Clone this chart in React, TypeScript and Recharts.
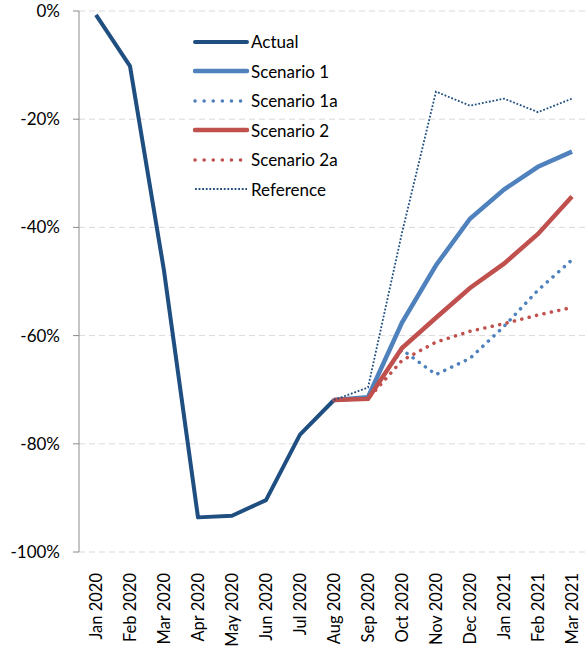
import {
    LineChart, Line, XAxis, YAxis, CartesianGrid, Legend,
} from 'recharts';

const months = [
    'Jan 2020', 'Feb 2020', 'Mar 2020', 'Apr 2020', 'May 2020', 'Jun 2020', 'Jul 2020',
    'Aug 2020', 'Sep 2020', 'Oct 2020', 'Nov 2020', 'Dec 2020', 'Jan 2021', 'Feb 2021', 'Mar 2021'
];

const actual = [-0.7, -10.2, -48, -93.6, -93.3, -90.4, -78.3, -71.9, null, null, null, null, null, null, null];
const scenario1 = [null, null, null, null, null, null, null, -71.9, -71.4, -57.6, -47, -38.4, -33, -28.8, -26];
const scenario1a = [null, null, null, null, null, null, null, -71.9, -71.4, -62.6, -67.2, -64.2, -58.3, -51.6, -46];
const scenario2 = [null, null, null, null, null, null, null, -71.9, -71.7, -62.3, -56.7, -51.2, -46.7, -41.2, -34.3];
const scenario2a = [null, null, null, null, null, null, null, -71.9, -71.7, -64.6, -61.2, -59.2, -57.8, -56.2, -54.8];
const reference = [null, null, null, null, null, null, null, -71.9, -69.6, -41, -14.9, -17.5, -16.2, -18.7, -16.2];

const yTicks = [0, -20, -40, -60, -80, -100];
const boundaries = [0, 1, 2, 3, 4, 5, 6, 7, 8, 9, 10, 11, 12, 13, 14, 15];

const data = months.map((m, i) => ({
    name: m,
    idx: i + 0.5,
    actual: actual[i],
    s1: scenario1[i],
    s1a: scenario1a[i],
    s2: scenario2[i],
    s2a: scenario2a[i],
    ref: reference[i],
}));

const FONT = 'Lato, "Open Sans", sans-serif';
const NAVY = '#1F4E81';
const BLUE = '#4F81BD';
const RED = '#C0504D';

const legendItems = [
    {name: 'Actual', color: NAVY, width: 4, dash: undefined, cap: 'round'},
    {name: 'Scenario 1', color: BLUE, width: 4.5, dash: undefined, cap: 'round'},
    {name: 'Scenario 1a', color: BLUE, width: 3.5, dash: '0.1 9', cap: 'round'},
    {name: 'Scenario 2', color: RED, width: 4.5, dash: undefined, cap: 'round'},
    {name: 'Scenario 2a', color: RED, width: 3.5, dash: '0.1 9', cap: 'round'},
    {name: 'Reference', color: NAVY, width: 1.8, dash: '1.8 1.8', cap: 'butt'},
];

const renderLegend = () => (
    <div style={{fontFamily: FONT, fontSize: 17, color: '#000'}}>
        {legendItems.map((it) => (
            <div key={it.name} style={{display: 'flex', alignItems: 'center', height: 29.5}}>
                <svg width={58} height={10}>
                    <line x1={2} y1={5} x2={54} y2={5} stroke={it.color} strokeWidth={it.width}
                          strokeDasharray={it.dash} strokeLinecap={it.cap as any}/>
                </svg>
                <span>{it.name}</span>
            </div>
        ))}
    </div>
);

const MonthTick = (props: any) => {
    const {x, y, payload} = props;
    return (
        <text x={0} y={0} dy="0.35em" textAnchor="end" fontFamily={FONT} fontSize={16.5} fill="#000"
              transform={`translate(${x},${y + 13}) rotate(-90)`}>
            {payload.value}
        </text>
    );
};

const App = () => {
    return (
        <div style={{position: 'absolute', left: 0, top: 0, width: 587, height: 646, overflow: 'hidden', background: '#fff'}}>
            <LineChart width={589} height={646} data={data}
                       margin={{top: 11, right: 0, left: 0, bottom: 9}}>
                <CartesianGrid vertical={false} stroke="#D9D9D9" strokeDasharray="6 4"/>
                <XAxis dataKey="name" xAxisId="cat" orientation="bottom" height={85} interval={0}
                       padding={{left: 17, right: 17}}
                       axisLine={false} tickLine={false} tick={<MonthTick/>}/>
                <XAxis xAxisId="frame" type="number" dataKey="idx" domain={[0, 15]} ticks={boundaries}
                       orientation="top" mirror height={0} tick={false} tickSize={5}
                       stroke="#8C8C8C" allowDataOverflow/>
                <YAxis domain={[-100, 0]} ticks={yTicks} width={79} tickSize={6} tickMargin={13}
                       tickFormatter={(v) => `${v}%`} stroke="#8C8C8C"
                       tick={{fill: '#000', fontFamily: FONT, fontSize: 17}}/>
                <Legend content={renderLegend} layout="vertical" verticalAlign="middle" align="center"
                        wrapperStyle={{position: 'absolute', top: 27, left: 193, width: 200}}/>
                <Line xAxisId="cat" dataKey="actual" name="Actual" stroke={NAVY} strokeWidth={4}
                      dot={false} isAnimationActive={false} strokeLinejoin="round"/>
                <Line xAxisId="cat" dataKey="s1" name="Scenario 1" stroke={BLUE} strokeWidth={4.5}
                      dot={false} isAnimationActive={false}/>
                <Line xAxisId="cat" dataKey="s1a" name="Scenario 1a" stroke={BLUE} strokeWidth={3.5}
                      strokeDasharray="0.1 7.5" strokeLinecap="round" dot={false} isAnimationActive={false}/>
                <Line xAxisId="cat" dataKey="s2" name="Scenario 2" stroke={RED} strokeWidth={4.5}
                      dot={false} isAnimationActive={false}/>
                <Line xAxisId="cat" dataKey="s2a" name="Scenario 2a" stroke={RED} strokeWidth={3.5}
                      strokeDasharray="0.1 7.5" strokeLinecap="round" dot={false} isAnimationActive={false}/>
                <Line xAxisId="cat" dataKey="ref" name="Reference" stroke={NAVY} strokeWidth={1.8}
                      strokeDasharray="1.8 1.8" dot={false} isAnimationActive={false}/>
            </LineChart>
        </div>
    );
};

export default App;
